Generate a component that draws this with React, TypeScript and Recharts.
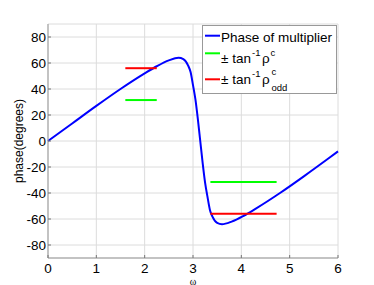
import { LineChart, Line, XAxis, YAxis, CartesianGrid, Legend } from 'recharts'

// phase of multiplier
const omega = [0, 0.5, 1, 1.5, 2, 2.25, 2.5, 2.7, 2.8, 2.9, 2.95, 3, 3.05, 3.1, 3.15, 3.2, 3.25, 3.3, 3.35, 3.4, 3.5, 3.6, 3.8, 4.05, 4.3, 4.8, 5.3, 5.8, 6]
const phaseDeg = [0, 13.5, 27, 40, 52, 57.5, 62, 64, 63, 58, 53, 43, 32, 17, 0, -17, -32, -43, -53, -58, -63, -64, -62, -57.5, -52, -40, -27, -13.5, -8]

// ± tan^-1 rho levels and the omega ranges they span
const rhoC = 31.5
const rhoOdd = 56
const upperSpan = [1.6, 2.25]
const lowerSpan = [3.36, 4.73]

const xTicks = [0, 1, 2, 3, 4, 5, 6]
const yTicks = [-80, -60, -40, -20, 0, 20, 40, 60, 80]

const phaseData = omega.map((w, i) => ({ w, v: phaseDeg[i] }))
const seg = (span: number[], v: number) => span.map((w) => ({ w, v }))
const greenUp = seg(upperSpan, rhoC)
const greenDown = seg(lowerSpan, -rhoC)
const redUp = seg(upperSpan, rhoOdd)
const redDown = seg(lowerSpan, -rhoOdd)

const FONT = '"Liberation Sans", Arial, sans-serif'
const TICK = '#777'
const BOX = '#999'

const LeftTick = (p: any) => (
  <g>
    <line x1={p.x} x2={p.x + 3} y1={p.y} y2={p.y} stroke={TICK} />
    <text x={p.x - 2} y={p.y} dy="0.35em" textAnchor="end" fontSize={13.5} fontFamily={FONT} fill="#000">
      {p.payload.value}
    </text>
  </g>
)
const BottomTick = (p: any) => (
  <g>
    <line x1={p.x} x2={p.x} y1={p.y} y2={p.y - 3} stroke={TICK} />
    <text x={p.x} y={p.y + 14.5} textAnchor="middle" fontSize={13.5} fontFamily={FONT} fill="#000">
      {p.payload.value}
    </text>
  </g>
)
const RightTick = (p: any) => <line x1={p.x} x2={p.x - 3} y1={p.y} y2={p.y} stroke={TICK} />
const TopTick = (p: any) => <line x1={p.x} x2={p.x} y1={p.y} y2={p.y + 3} stroke={TICK} />

const LegendBox = () => (
  <svg width={135} height={69} style={{ display: 'block' }} fontFamily={FONT} fill="#000">
    <rect x={0.5} y={0.5} width={134} height={68} fill="#fff" stroke={BOX} />
    <line x1={3} x2={18} y1={10.7} y2={10.7} stroke="#0000ff" strokeWidth={2} />
    <text x={19} y={16.7} fontSize={13.5}>Phase of multiplier</text>

    <line x1={3} x2={18} y1={28.3} y2={28.3} stroke="#00ff00" strokeWidth={2} />
    <text x={19} y={38.3} fontSize={13.5}>± tan</text>
    <text x={50} y={31} fontSize={9.5}>-1</text>
    <text x={60} y={38.3} fontSize={13.5}>ρ</text>
    <text x={68.5} y={31} fontSize={9.5}>c</text>

    <line x1={3} x2={18} y1={54.3} y2={54.3} stroke="#ff0000" strokeWidth={2} />
    <text x={19} y={59.3} fontSize={13.5}>± tan</text>
    <text x={50} y={52} fontSize={9.5}>-1</text>
    <text x={60} y={59.3} fontSize={13.5}>ρ</text>
    <text x={69.5} y={50} fontSize={9.5}>c</text>
    <text x={69.5} y={66} fontSize={9.5}>odd</text>
  </svg>
)

export default function App() {
  return (
    <div style={{ position: 'absolute', left: 0, top: 0, width: 374, height: 285, background: '#fff' }}>
      <LineChart width={374} height={285} data={phaseData} margin={{ top: 24, right: 36, bottom: 0, left: 0 }}>
        <CartesianGrid stroke="#dcdcdc" />
        <XAxis
          dataKey="w"
          type="number"
          domain={[0, 6]}
          ticks={xTicks}
          height={27}
          tickSize={0}
          tickMargin={0}
          stroke={BOX}
          tick={BottomTick}
          label={() => (
            <text x={193} y={281} dy="0.35em" textAnchor="middle" fontSize={10} fill="#000" fontFamily='"Liberation Serif", serif'>
              ω
            </text>
          )}
        />
        <XAxis xAxisId="t" orientation="top" type="number" domain={[0, 6]} ticks={xTicks} height={0} tickSize={0} tickMargin={0} stroke={BOX} tick={TopTick} />
        <YAxis
          type="number"
          domain={[-90, 90]}
          ticks={yTicks}
          width={48}
          tickSize={0}
          tickMargin={0}
          stroke={BOX}
          tick={LeftTick}
          label={() => (
            <text
              x={18.5}
              y={141}
              dy="0.35em"
              textAnchor="middle"
              transform="rotate(-90 18.5 141)"
              fontSize={12}
              fill="#000"
              fontFamily={FONT}
            >
              phase(degrees)
            </text>
          )}
        />
        <YAxis yAxisId="r" orientation="right" type="number" domain={[-90, 90]} ticks={yTicks} width={0} tickSize={0} tickMargin={0} stroke={BOX} tick={RightTick} />
        <Legend
          layout="vertical"
          align="center"
          verticalAlign="middle"
          wrapperStyle={{ left: 202, top: 25, width: 135, height: 69 }}
          content={() => <LegendBox />}
        />
        <Line dataKey="v" type="monotone" stroke="#0000ff" strokeWidth={2} dot={false} isAnimationActive={false} />
        <Line data={greenUp} dataKey="v" stroke="#00ff00" strokeWidth={2} dot={false} isAnimationActive={false} />
        <Line data={greenDown} dataKey="v" stroke="#00ff00" strokeWidth={2} dot={false} isAnimationActive={false} />
        <Line data={redUp} dataKey="v" stroke="#ff0000" strokeWidth={2} dot={false} isAnimationActive={false} />
        <Line data={redDown} dataKey="v" stroke="#ff0000" strokeWidth={2} dot={false} isAnimationActive={false} />
      </LineChart>
    </div>
  )
}
